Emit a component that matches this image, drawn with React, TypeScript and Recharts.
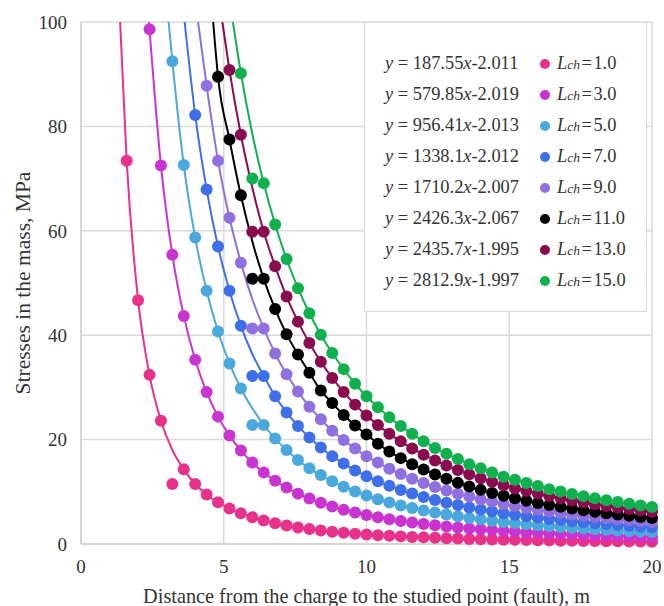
import { ComposedChart, Line, CartesianGrid, XAxis, YAxis } from 'recharts'

// distance from the charge, m (dots every 0.4 m)
const xs = [
  1.6, 2.0, 2.4, 2.8, 3.2, 3.6, 4.0, 4.4, 4.8, 5.2, 5.6, 6.0, 6.4, 6.8, 7.2, 7.6,
  8.0, 8.4, 8.8, 9.2, 9.6, 10.0, 10.4, 10.8, 11.2, 11.6, 12.0, 12.4, 12.8, 13.2,
  13.6, 14.0, 14.4, 14.8, 15.2, 15.6, 16.0, 16.4, 16.8, 17.2, 17.6, 18.0, 18.4,
  18.8, 19.2, 19.6, 20.0,
]

// stresses along each curve, MPa; every array ends at x = 20
const lch1 = [
  73.4, 46.7, 32.4, 23.6, 18.0, 14.3, 11.5, 9.5, 8.0, 6.8, 5.87, 5.11, 4.49, 3.97,
  3.54, 3.17, 2.86, 2.6, 2.36, 2.16, 1.98, 1.83, 1.69, 1.57, 1.46, 1.36, 1.27, 1.19,
  1.11, 1.05, 0.98, 0.93, 0.88, 0.83, 0.79, 0.75, 0.71, 0.68, 0.64, 0.61, 0.59, 0.56,
  0.54, 0.51, 0.49, 0.47, 0.45,
]
const lch3 = [
  98.6, 72.5, 55.4, 43.7, 35.3, 29.1, 24.4, 20.8, 17.9, 15.6, 13.7, 12.1, 10.8, 9.65,
  8.7, 7.89, 7.18, 6.56, 6.02, 5.54, 5.12, 4.75, 4.41, 4.11, 3.84, 3.59, 3.37, 3.16,
  2.98, 2.81, 2.66, 2.51, 2.38, 2.26, 2.15, 2.04, 1.94, 1.85, 1.77, 1.69, 1.62, 1.55,
  1.48, 1.42, 1.37,
]
const lch5 = [
  92.5, 72.6, 58.7, 48.5, 40.7, 34.6, 29.8, 26.0, 22.8, 20.2, 18.0, 16.1, 14.5, 13.2,
  12.0, 10.98, 10.08, 9.28, 8.58, 7.95, 7.39, 6.89, 6.43, 6.02, 5.65, 5.31, 5.0, 4.72,
  4.46, 4.22, 4.0, 3.79, 3.6, 3.43, 3.27, 3.12, 2.97, 2.84, 2.72, 2.6, 2.5, 2.4, 2.3,
]
const lch7 = [
  82.2, 67.9, 57.0, 48.5, 41.8, 36.4, 32.2, 28.3, 25.2, 22.6, 20.4, 18.5, 16.8, 15.4,
  14.1, 13.0, 12.0, 11.15, 10.36, 9.66, 9.02, 8.44, 7.92, 7.45, 7.01, 6.61, 6.25, 5.91,
  5.61, 5.32, 5.06, 4.81, 4.58, 4.37, 4.17, 3.99, 3.82, 3.65, 3.5, 3.36, 3.23,
]
const lch9 = [
  87.8, 73.4, 62.5, 53.9, 46.9, 41.3, 36.5, 32.5, 29.2, 26.3, 23.9, 21.7, 19.9, 18.3,
  16.8, 15.6, 14.4, 13.4, 12.5, 11.67, 10.93, 10.26, 9.64, 9.08, 8.57, 8.1, 7.66, 7.26,
  6.89, 6.55, 6.23, 5.94, 5.67, 5.41, 5.17, 4.95, 4.74, 4.54, 4.36, 4.19,
]
const lch11 = [
  89.5, 77.5, 66.8, 58.0, 50.8, 45.0, 40.2, 36.3, 32.8, 29.4, 27.0, 24.7, 22.7, 21.0,
  19.2, 17.7, 16.45, 15.3, 14.26, 13.33, 12.48, 11.71, 11.01, 10.37, 9.79, 9.25, 8.75,
  8.29, 7.87, 7.48, 7.12, 6.78, 6.46, 6.17, 5.9, 5.64, 5.4, 5.17, 4.96,
]
const lch13 = [
  90.8, 78.4, 68.3, 59.8, 53.2, 47.4, 42.6, 38.5, 34.9, 31.8, 29.1, 26.7, 24.6, 22.8,
  21.1, 19.66, 18.3, 17.1, 16.0, 15.06, 14.16, 13.34, 12.59, 11.9, 11.27, 10.69, 10.15,
  9.65, 9.18, 8.75, 8.35, 7.98, 7.63, 7.3, 6.99, 6.71, 6.44, 6.18,
]
const lch15 = [
  90.2, 78.6, 69.1, 61.2, 54.6, 49.0, 44.2, 40.1, 36.6, 33.5, 30.7, 28.3, 26.2, 24.3,
  22.6, 21.1, 19.7, 18.4, 17.3, 16.3, 15.3, 14.5, 13.7, 12.9, 12.3, 11.7, 11.1, 10.5,
  10.05, 9.59, 9.16, 8.76, 8.38, 8.03, 7.7, 7.39, 7.1,
]

// where each curve leaves the top of the plot (y = 100)
const topX = [1.37, 2.38, 3.07, 3.63, 4.1, 4.63, 4.95, 5.32]

// dots that sit off their curve: [series, x, y]
const offCurve: [number, number, number][] = [
  [0, 3.2, 11.5],
  [2, 6.0, 22.8],
  [3, 6.0, 32.2],
  [4, 6.0, 41.3],
  [5, 6.0, 50.8],
  [6, 6.0, 59.8],
  [7, 6.0, 70.0],
]

const lchLabels = ['1.0', '3.0', '5.0', '7.0', '9.0', '11.0', '13.0', '15.0']
const coefs = ['187.55', '579.85', '956.41', '1338.1', '1710.2', '2426.3', '2435.7', '2812.9']
const powers = ['-2.011', '-2.019', '-2.013', '-2.012', '-2.007', '-2.067', '-1.995', '-1.997']
const colors = ['#e8318a', '#c934d0', '#4aa8dd', '#3f6fe8', '#9070e0', '#000000', '#8b0c4e', '#10b04f']

const series = [lch1, lch3, lch5, lch7, lch9, lch11, lch13, lch15]

const rows: Record<string, number>[] = xs.map((x) => ({ x }))
series.forEach((vals, i) => {
  const start = xs.length - vals.length
  vals.forEach((v, j) => {
    rows[start + j]['c' + i] = v
    rows[start + j]['d' + i] = v
  })
})
offCurve.forEach(([i, x, y]) => {
  rows[xs.indexOf(x)]['d' + i] = y
})
topX.forEach((x, i) => rows.push({ x, ['c' + i]: 100 }))
rows.sort((a, b) => a.x - b.x)

const font = '"Liberation Serif", "Times New Roman", serif'
const textColor = '#333'

function LegendBox() {
  return (
    <div
      style={{
        position: 'absolute',
        left: 364,
        top: 22,
        width: 283,
        height: 290,
        background: '#fff',
        border: '1px solid #d9d9d9',
        boxSizing: 'border-box',
        fontFamily: font,
        fontSize: 18.4,
        color: textColor,
      }}
    >
      {lchLabels.map((l, i) => (
        <div key={l} style={{ position: 'absolute', left: 0, top: 25 + i * 31, height: 31, width: '100%', lineHeight: '31px' }}>
          <span style={{ position: 'absolute', left: 20, whiteSpace: 'nowrap' }}>
            <i>y</i> = {coefs[i]}<i>x</i>{powers[i]}
          </span>
          <span
            style={{
              position: 'absolute',
              left: 175,
              top: 10.5,
              width: 10,
              height: 10,
              borderRadius: 5,
              background: colors[i],
            }}
          />
          <span style={{ position: 'absolute', left: 192, whiteSpace: 'nowrap' }}>
            <i>L</i>
            <i style={{ fontSize: 13.5 }}>ch</i>
            {'\u200a=\u200a' + l}
          </span>
        </div>
      ))}
    </div>
  )
}

export default function App() {
  return (
    <div style={{ position: 'absolute', left: 0, top: 0, width: 664, height: 606, background: '#fff' }}>
      <ComposedChart width={664} height={606} data={rows} margin={{ top: 22, right: 12, left: 0, bottom: 0 }}>
        <CartesianGrid stroke="#d9d9d9" strokeWidth={1.5} />
        <XAxis
          dataKey="x"
          type="number"
          domain={[0, 20]}
          ticks={[0, 5, 10, 15, 20]}
          height={62}
          tickSize={0}
          tickMargin={16}
          axisLine={{ stroke: '#d0d0d0', strokeWidth: 1.5 }}
          tick={{ fill: textColor, fontSize: 19, fontFamily: font }}
          label={{
            value: 'Distance from the charge to the studied point (fault), m',
            position: 'insideBottom',
            offset: 3,
            fill: textColor,
            fontSize: 20.3,
            fontFamily: font,
          }}
        />
        <YAxis
          type="number"
          domain={[0, 100]}
          ticks={[0, 20, 40, 60, 80, 100]}
          width={81}
          tickSize={0}
          tickMargin={14}
          axisLine={{ stroke: '#d0d0d0', strokeWidth: 1.5 }}
          tick={{ fill: textColor, fontSize: 19, fontFamily: font }}
          label={{
            value: 'Stresses in the mass, MPa',
            angle: -90,
            position: 'insideLeft',
            offset: 22,
            style: { textAnchor: 'middle' },
            fill: textColor,
            fontSize: 21.5,
            fontFamily: font,
          }}
        />
        {colors.map((c, i) => [
          <Line
            key={'c' + i}
            dataKey={'c' + i}
            type="monotone"
            stroke={c}
            strokeWidth={2}
            dot={false}
            activeDot={false}
            connectNulls
            isAnimationActive={false}
          />,
          <Line
            key={'d' + i}
            dataKey={'d' + i}
            stroke="none"
            dot={{ r: 6, fill: c, stroke: 'none' }}
            activeDot={false}
            isAnimationActive={false}
          />,
        ])}
      </ComposedChart>
      <LegendBox />
    </div>
  )
}
